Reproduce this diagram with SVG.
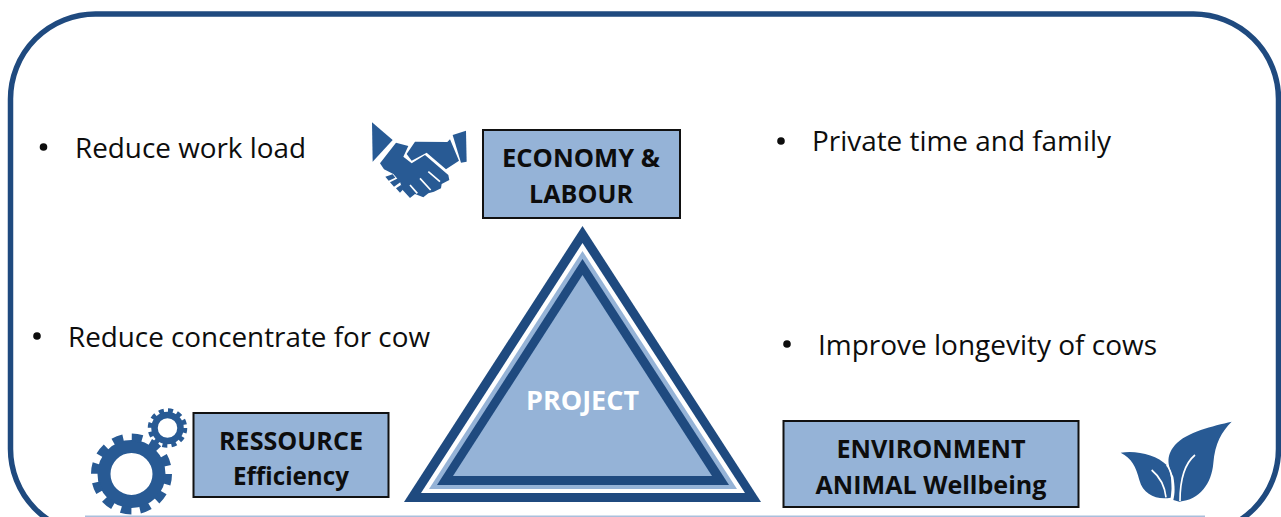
<svg xmlns="http://www.w3.org/2000/svg" width="1281" height="517" viewBox="0 0 1281 517">
<style>
.t{font-family:"Open Sans","Noto Sans",sans-serif;font-size:27px;fill:#0d0d0d}
.b{font-family:"Open Sans","Noto Sans",sans-serif;font-size:25px;font-weight:700;fill:#0d0d0d;text-anchor:middle}
.box{fill:#95b3d7;stroke:#111;stroke-width:2}
.ic{fill:#285a94}
.v{fill:none;stroke:#fff;stroke-width:5}
</style>
<rect width="1281" height="517" fill="#fff"/>
<g id="frame"><rect x="10.500" y="14" width="1268" height="520" rx="85" ry="85" fill="none" stroke="#1f4a7f" stroke-width="5.500"/><rect x="85" y="515.500" width="1120" height="1.500" fill="#a9bfdc"/></g>
<g id="text-left-top"><circle cx="43.500" cy="147" r="3.800" fill="#0d0d0d"/><text class="t" x="75" y="158" textLength="231" lengthAdjust="spacingAndGlyphs">Reduce work load</text></g>
<g id="text-right-top"><circle cx="781" cy="141" r="3.800" fill="#0d0d0d"/><text class="t" x="812" y="151" textLength="299" lengthAdjust="spacingAndGlyphs">Private time and family</text></g>
<g id="text-left-mid"><circle cx="37" cy="336" r="3.800" fill="#0d0d0d"/><text class="t" x="68" y="347" textLength="362" lengthAdjust="spacingAndGlyphs">Reduce concentrate for cow</text></g>
<g id="text-right-mid"><circle cx="787" cy="344" r="3.800" fill="#0d0d0d"/><text class="t" x="818" y="355" textLength="339" lengthAdjust="spacingAndGlyphs">Improve longevity of cows</text></g>
<g id="icon-handshake" transform="translate(360 110) scale(.3333)">
<path class="ic" d="M36 37L98 90L38 155Z"/>
<path class="ic" d="M278 75L318 62L320 155L303 158Z"/>
<path class="ic" d="M140 132L165 95L262 96L270 88L297 152L258 178L200 128L155 152Z"/>
<path class="ic" d="M108 98L145 108L130 140L155 160L195 135L265 195L268 210L245 222L243 235L222 245L205 250L190 262L165 252L150 264L128 240L120 215L100 192L72 178L60 160Z"/>
<path class="v" d="M205 185L240 215M180 205L212 240M150 225L172 250"/>
<path class="ic" d="M76 200L98 193L106 203L86 212ZM90 217L114 205L122 216L102 230ZM108 235L124 224L130 238L120 248Z"/>
</g>
<g id="economy-labour"><rect class="box" x="483" y="130" width="197" height="88"/><text class="b" x="581" y="167" textLength="158" lengthAdjust="spacingAndGlyphs">ECONOMY &amp;</text><text class="b" x="581" y="203" textLength="104" lengthAdjust="spacingAndGlyphs">LABOUR</text></g>
<g id="icon-gears">
<circle cx="131.500" cy="474" r="27.500" fill="none" stroke="#285a94" stroke-width="13"/>
<circle cx="131.500" cy="474" r="36.500" fill="none" stroke="#285a94" stroke-width="8" stroke-dasharray="10.500 8.610"/>
<circle cx="167.500" cy="428" r="13" fill="none" stroke="#285a94" stroke-width="6.500"/>
<circle cx="167.500" cy="428" r="17.500" fill="none" stroke="#285a94" stroke-width="4.500" stroke-dasharray="5 4.160"/>
</g>
<g id="ressource-efficiency"><rect class="box" x="193.500" y="413" width="195" height="84"/><text class="b" x="291" y="450" textLength="144" lengthAdjust="spacingAndGlyphs">RESSOURCE</text><text class="b" x="291" y="485" textLength="116" lengthAdjust="spacingAndGlyphs">Efficiency</text></g>
<g id="project">
<polygon points="582.500,226 761,502 404,502" fill="#1f4a7f"/>
<polygon points="582.500,243 745,493 421,493" fill="#fff"/>
<polygon points="582.500,251 737,489 429,489" fill="#95b3d7"/>
<polygon points="582.500,259 729,485 437,485" fill="#1f4a7f"/>
<polygon points="582.500,275 712,476 453,476" fill="#95b3d7"/>
<text x="582.500" y="410" text-anchor="middle" textLength="113" lengthAdjust="spacingAndGlyphs" font-family="Open Sans, Noto Sans, sans-serif" font-size="26" font-weight="700" fill="#fff">PROJECT</text>
</g>
<g id="environment-animal"><rect class="box" x="783.500" y="421" width="295" height="86"/><text class="b" x="931" y="458" textLength="189" lengthAdjust="spacingAndGlyphs">ENVIRONMENT</text><text class="b" x="931" y="494" textLength="231" lengthAdjust="spacingAndGlyphs">ANIMAL Wellbeing</text></g>
<g id="icon-leaf" transform="translate(1100 400) scale(.3333)">
<path class="ic" d="M62 158C110 150 170 165 200 195C215 215 218 260 212 293C170 300 130 285 118 240C108 200 95 175 62 158Z"/>
<path class="ic" d="M395 65C340 78 260 95 225 135C195 170 205 200 220 230C225 260 225 280 220 300L238 305C300 300 335 250 340 190C345 130 365 95 395 65Z"/>
<path class="v" d="M285 165C255 190 240 230 240 303M155 210C185 235 195 265 198 292M200 195C218 215 222 260 216 300"/>
</g>
</svg>
